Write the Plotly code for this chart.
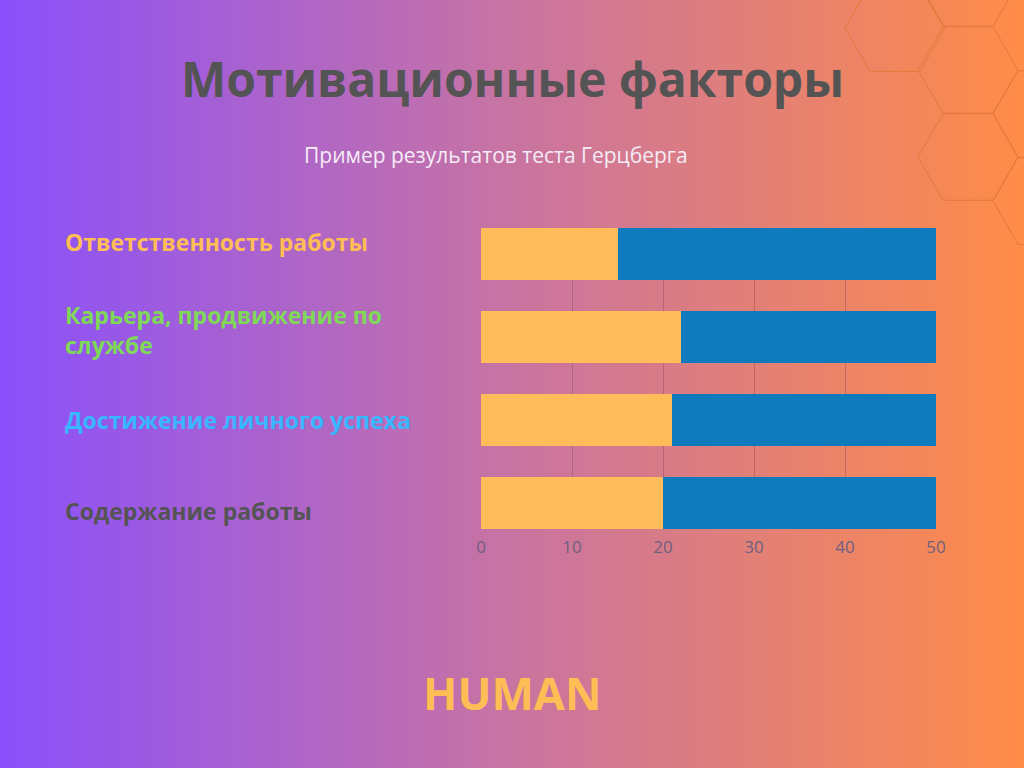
import math
import plotly.graph_objects as go

categories = ["Ответственность работы", "Карьера, продвижение по<br>службе",
              "Достижение личного успеха", "Содержание работы"]
label_colors = ["#FFBE55", "#7ED957", "#38B6FF", "#545454"]
label_shift = [12, 7, 0, -8]
yellow_vals = [15, 22, 21, 20]
blue_vals = [35, 28, 29, 30]
ticks = [0, 10, 20, 30, 40, 50]

W, H = 1024, 768
L, R, T, B = 481, 88, 228, 239
PW, PH = W - L - R, H - T - B

def px(x):
    return (x - L) / PW

def py(y):
    return (H - B - y) / PH

fig = go.Figure()
fig.add_trace(go.Bar(y=categories, x=yellow_vals, orientation="h",
                     marker=dict(color="#FFBC5A", line_width=0)))
fig.add_trace(go.Bar(y=categories, x=blue_vals, orientation="h",
                     marker=dict(color="#0F7BBD", line_width=0)))

# gradient background
stops = [(0, (0x8A, 0x50, 0xFB)), (0.5, (0xC8, 0x74, 0xA2)), (1, (0xFF, 0x8C, 0x48))]
def col(t):
    for (a, ca), (b, cb) in zip(stops, stops[1:]):
        if t <= b:
            f = (t - a) / (b - a)
            return "rgb(%d,%d,%d)" % tuple(round(x + (y - x) * f) for x, y in zip(ca, cb))
shapes = []
n = 128
for i in range(n):
    shapes.append(dict(type="rect", xref="paper", yref="paper", layer="below",
                       x0=px(i * W / n), x1=px((i + 1) * W / n + 1), y0=py(H), y1=py(0),
                       fillcolor=col((i + 0.5) / n), line_width=0))

def hexpath(cx, cy, r):
    pts = []
    for k in range(6):
        a = math.radians(60 * k)
        pts.append((px(cx + r * math.cos(a)), py(cy + r * math.sin(a))))
    return "M " + " L ".join("%.4f,%.4f" % p for p in pts) + " Z"
for cx, cy in [(895, 28), (968, 70), (968, 157), (1043, 114), (1043, 201), (968, -17)]:
    shapes.append(dict(type="path", xref="paper", yref="paper", layer="below",
                       path=hexpath(cx, cy, 50), line=dict(color="#E07A3C", width=1)))

fig.update_layout(
    width=W, height=H, barmode="stack", bargap=0.37, showlegend=False,
    margin=dict(l=L, r=R, t=T, b=B),
    paper_bgcolor="#b068c8", plot_bgcolor="rgba(0,0,0,0)",
    xaxis=dict(range=[0, 50], tickvals=ticks, showgrid=True, gridcolor="rgba(120,60,90,0.35)",
               zeroline=False, tickfont=dict(family="Open Sans", size=17, color="#6e5f80"),
               ticklen=0, ticklabelstandoff=6),
    yaxis=dict(range=[3.315, -0.315], showticklabels=False, showgrid=False),
    shapes=shapes,
    font=dict(family="Open Sans"),
)
ann = [
    dict(text="<b>Мотивационные факторы</b>", x=px(512), y=py(78),
         font=dict(size=48, color="#545454")),
    dict(text="Пример результатов теста Герцберга", x=px(496), y=py(155),
         font=dict(size=21, color="#f4ecf6")),
    dict(text="<b>HUMAN</b>", x=px(512), y=py(692),
         font=dict(size=45, color="#FFBE55")),
]
for a in ann:
    a.update(xref="paper", yref="paper", showarrow=False, xanchor="center", yanchor="middle")
for cat, c, s in zip(categories, label_colors, label_shift):
    ann.append(dict(text="<b>%s</b>" % cat, xref="paper", yref="y", y=cat, x=px(63),
                    showarrow=False, xanchor="left", align="left", yanchor="middle",
                    yshift=s, font=dict(size=23, color=c, family="Open Sans")))
fig.update_layout(annotations=ann)
fig.write_html("out.html", config={"displayModeBar": False},
               post_script="document.body.style.margin='0';")
